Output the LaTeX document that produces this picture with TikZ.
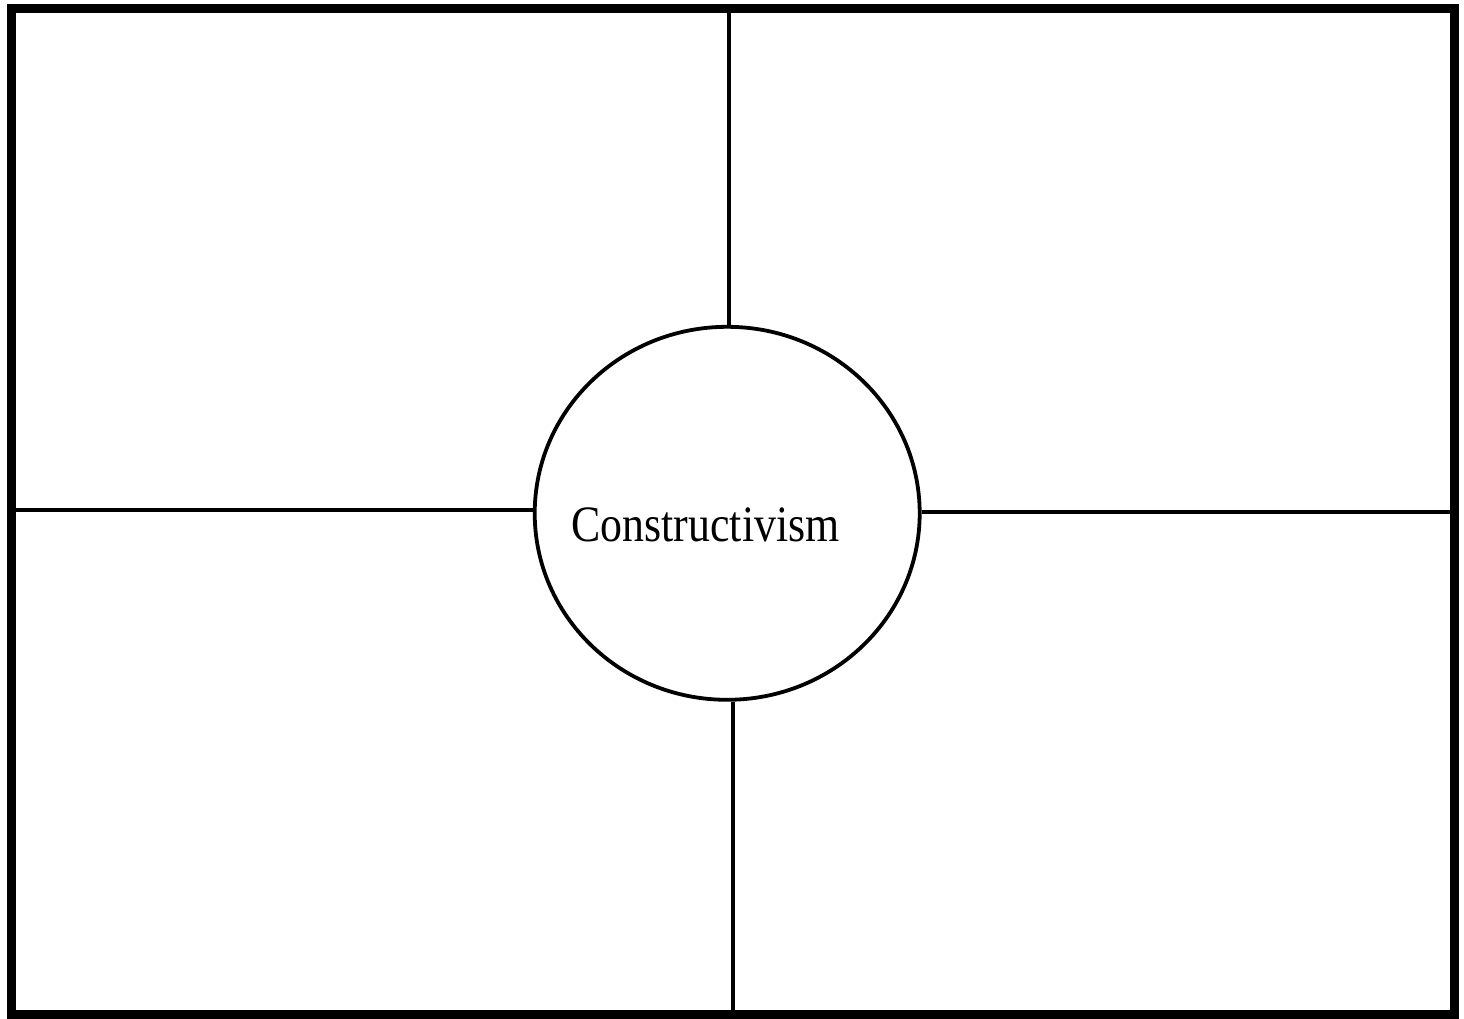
\documentclass[tikz,border=0pt]{standalone}
\usepackage{fontspec}
\setmainfont{Liberation Serif}
\usetikzlibrary{shapes.geometric}
\begin{document}
\begin{tikzpicture}[x=1pt,y=-1pt,
  framebox/.style={draw=black,line width=9pt,rectangle,inner sep=0pt,minimum width=1443pt,minimum height=1006pt},
  hub/.style={draw=black,line width=3.8pt,ellipse,inner sep=0pt,minimum width=385pt,minimum height=373pt,fill=white},
  spoke/.style={draw=black,line width=4.5pt}]
\useasboundingbox (0,0) rectangle (1464,1018);
\fill[white] (0,0) rectangle (1464,1018);
\node[framebox] (frame) at (733,511) {};
\node[hub] (c) at (727.2,513.3) {};
\coordinate (t1) at (729,8);
\coordinate (b1) at (733,1014);
\coordinate (l1) at (11.5,510);
\coordinate (r1) at (1454.5,512);
\draw[spoke] (t1) -- (t1 |- c.north);
\draw[spoke] (b1) -- (b1 |- c.south);
\draw[spoke] (l1) -- (l1 -| c.west);
\draw[spoke] (r1) -- (r1 -| c.east);
\node[anchor=base,inner sep=0pt,xscale=0.86,font=\fontsize{51}{51}\selectfont] (lbl) at (705.5,541.5) {Constructivism};
\end{tikzpicture}
\end{document}
